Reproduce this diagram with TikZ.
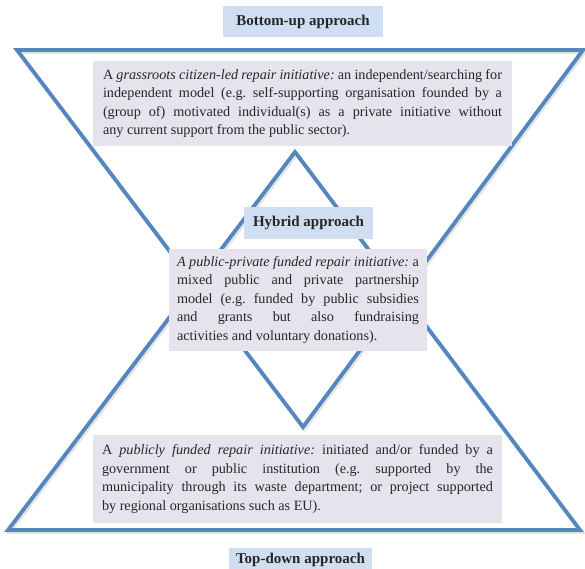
\documentclass[tikz,border=0pt]{standalone}
\usepackage{fontspec}
\setmainfont{Liberation Serif}
\definecolor{triblue}{RGB}{84,134,192}
\definecolor{lblblue}{RGB}{207,222,240}
\definecolor{txtlav}{RGB}{231,227,237}
\begin{document}
\frenchspacing
\begin{tikzpicture}[x=1pt,y=-1pt,
  tri/.style={draw=triblue, line width=3.8pt, line join=miter},
  trishadow/.style={draw=black!30, line width=3.8pt, opacity=0.35, line join=miter},
  lbl/.style={fill=lblblue, font=\bfseries\fontsize{15}{17}\selectfont, inner sep=0pt, text=black!85},
  txt/.style={fill=txtlav, font=\fontsize{14.2}{18.5}\selectfont, align=justify, inner ysep=0pt, text=black!85},
]
\useasboundingbox (0,0) rectangle (585,568);
\clip (0,0) rectangle (585,568);
\fill[white] (0,0) rectangle (585,568);
% triangles
\coordinate (TL) at (17,50);
\coordinate (TR) at (583,50);
\coordinate (TB) at (303,427);
\coordinate (BA) at (295,152);
\coordinate (BL) at (8,530);
\coordinate (BR) at (580,530);
\draw[trishadow] ([shift={(1.5,2)}]TL) -- ([shift={(1.5,2)}]TR) -- ([shift={(1.5,2)}]TB) -- cycle;
\draw[trishadow] ([shift={(1.5,2)}]BA) -- ([shift={(1.5,2)}]BR) -- ([shift={(1.5,2)}]BL) -- cycle;
\draw[tri] (TL) -- (TR) -- (TB) -- cycle;
\draw[tri] (BA) -- (BR) -- (BL) -- cycle;
% labels
\node[lbl, minimum width=160pt, minimum height=31pt] (bu) at (303,21.5) {Bottom-up approach};
\node[lbl, minimum width=129pt, minimum height=32pt] (hy) at (308.5,223) {Hybrid approach};
\node[lbl, minimum width=143pt, minimum height=24pt] (td) at (300.5,560) {Top-down approach};
% text boxes
\node[txt, inner xsep=10pt, text width=399pt, minimum height=85pt] (tb) at (302.5,103.5)
 {A \textit{grassroots citizen-led repair initiative:} an independent/searching for\linebreak
  independent model (e.g. self-supporting organisation founded by a\linebreak
  (group of) motivated individual(s) as a private initiative without\linebreak
  any current support from the public sector).};
\node[txt, inner xsep=8pt, text width=242pt, minimum height=102pt] (hb) at (298,300)
 {\textit{A public-private funded repair initiative:} a\linebreak
  mixed public and private partnership\linebreak
  model (e.g. funded by public subsidies\linebreak
  and grants but also fundraising\linebreak
  activities and voluntary donations).};
\node[txt, inner xsep=9pt, text width=391pt, minimum height=88pt] (bb) at (297.5,479)
 {A \textit{publicly funded repair initiative:} initiated and/or funded by a\linebreak
  government or public institution (e.g. supported by the\linebreak
  municipality through its waste department; or project supported\linebreak
  by regional organisations such as EU).};
\end{tikzpicture}
\end{document}
